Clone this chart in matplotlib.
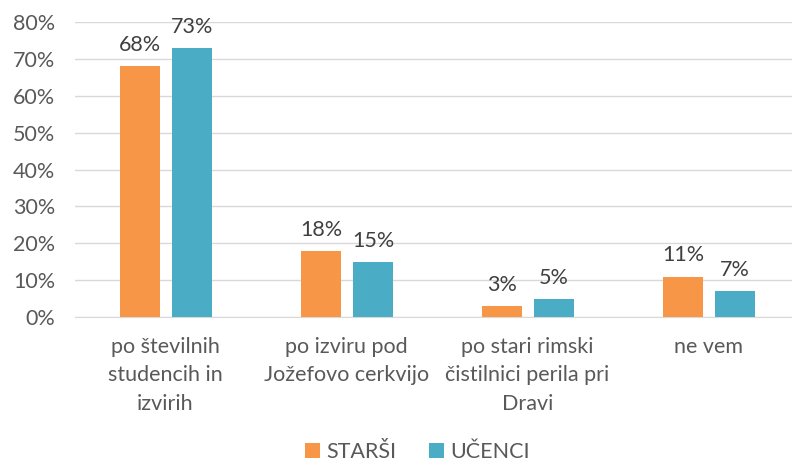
import numpy as np
import matplotlib.pyplot as plt

categories = ["po številnih\nstudencih in\nizvirih",
              "po izviru pod\nJožefovo cerkvijo",
              "po stari rimski\nčistilnici perila pri\nDravi",
              "ne vem"]
starsi = [68, 18, 3, 11]
ucenci = [73, 15, 5, 7]
series = [("STARŠI", starsi, "#F79646"), ("UČENCI", ucenci, "#4BACC6")]

plt.rcParams['font.family'] = ['Lato', 'DejaVu Sans']
TXT = "#595959"
FS = 15.5

fig = plt.figure(figsize=(7.92, 4.67), dpi=100)
ax = fig.add_axes([0.0945, 0.321, 0.914, 0.632])

x = np.arange(len(categories))
w = 0.221
offsets = [-0.14, 0.148]
for (label, vals, color), off in zip(series, offsets):
    bars = ax.bar(x + off, vals, w, color=color, label=label, zorder=3)
    for b, v in zip(bars, vals):
        ax.text(b.get_x() + b.get_width() / 2, v + 3.0, f"{v}%",
                ha="center", va="bottom", fontsize=FS, color="#404040")

ax.set_xlim(-0.5, len(categories) - 0.5)
ax.set_ylim(0, 80)
ax.set_yticks(range(0, 81, 10))
ax.set_yticklabels([f"{t}%" for t in range(0, 81, 10)])
ax.set_xticks(x)
ax.set_xticklabels(categories, linespacing=1.55)
ax.tick_params(axis="both", length=0, labelsize=FS, colors=TXT)
ax.tick_params(axis="x", pad=14)
ax.tick_params(axis="y", pad=14)
ax.grid(axis="y", color="#D9D9D9", linewidth=1, zorder=0)
for s in ["top", "right", "left"]:
    ax.spines[s].set_visible(False)
ax.spines["bottom"].set_color("#D9D9D9")

leg = fig.legend(loc="lower center", bbox_to_anchor=(0.527, -0.03), ncol=2,
                 frameon=False, fontsize=FS, handlelength=0.7, handleheight=0.7,
                 handletextpad=0.3, columnspacing=1.5)
for t in leg.get_texts():
    t.set_color(TXT)

fig.savefig("out.png", dpi=100)
